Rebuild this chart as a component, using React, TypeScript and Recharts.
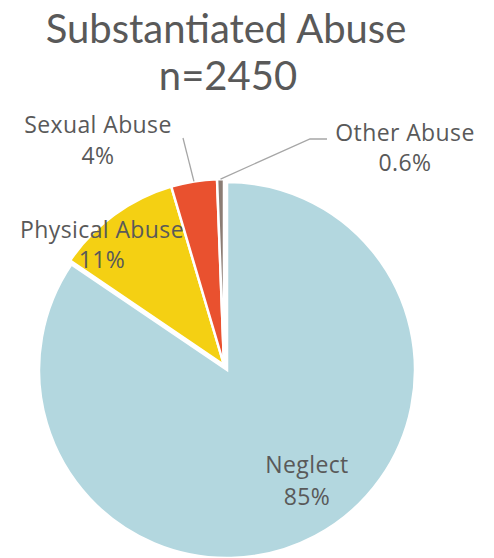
import React from 'react';
import { PieChart, Pie, Cell } from 'recharts';

const CATEGORIES = ['Neglect', 'Physical Abuse', 'Sexual Abuse', 'Other Abuse'];
const PERCENTS = [85, 11, 4, 0.6];
const PERCENT_LABELS = ['85%', '11%', '4%', '0.6%'];
const COLORS = ['#B3D7DF', '#F4D013', '#E9512F', '#8B7D74'];
const TITLE_LINES = ['Substantiated Abuse', 'n=2450'];

const data = CATEGORIES.map((name, i) => ({ name, value: PERCENTS[i], pct: PERCENT_LABELS[i] }));

const FONT = 'Lato, "Open Sans", sans-serif';
const LABEL_FONT = '"Open Sans", Lato, sans-serif';
const TEXT = '#595959';
const LINE = '#A6A6A6';
const RAD = Math.PI / 180;

// label placement relative to the pie centre
const LABEL_LAYOUT: Record<string, { dx: number; dy1: number; dy2: number; line?: number[][] }> = {
  'Neglect': { dx: 80, dy1: 103, dy2: 135 },
  'Physical Abuse': { dx: -122, dy1: -127, dy2: -97 },
  'Sexual Abuse': { dx: -126, dy1: -232, dy2: -201, line: [[-41, -227]] },
  'Other Abuse': { dx: 181, dy1: -224, dy2: -194, line: [[86, -226], [103, -226]] },
};

const makeLabel = (names: string[]) => (props: any) => {
  const { cx, cy, midAngle, outerRadius, name, payload } = props;
  if (!names.includes(name)) return null;
  const lay = LABEL_LAYOUT[name];
  const pct = payload?.pct ?? (payload?.payload?.pct);
  let path: React.ReactNode = null;
  if (lay.line) {
    const sx = cx + Math.cos(-midAngle * RAD) * outerRadius;
    const sy = cy + Math.sin(-midAngle * RAD) * outerRadius;
    const d = `M${sx},${sy}` + lay.line.map(([x, y]) => ` L${cx + x},${cy + y}`).join('');
    path = <path d={d} stroke={LINE} strokeWidth={1.3} fill="none" />;
  }
  const textProps = { textAnchor: 'middle' as const, fill: TEXT, fontSize: 23, fontFamily: LABEL_FONT, letterSpacing: 0.4 };
  return (
    <g key={`lbl-${name}`}>
      {path}
      <text x={cx + lay.dx} y={cy + lay.dy1} {...textProps}>{name}</text>
      <text x={cx + lay.dx} y={cy + lay.dy2} {...textProps}>{pct}</text>
    </g>
  );
};

export default function App() {
  return (
    <div style={{ position: 'absolute', left: 0, top: 0, width: 494, height: 558, background: '#fff' }}>
      <PieChart width={494} height={558} margin={{ top: 0, right: 0, bottom: 0, left: 0 }}>
        <Pie
          data={data}
          dataKey="value"
          nameKey="name"
          cx={227}
          cy={370}
          outerRadius={188}
          startAngle={90}
          endAngle={-270}
          stroke="#fff"
          strokeWidth={2.5}
          isAnimationActive={false}
          labelLine={false}
          label={makeLabel(['Neglect'])}
        >
          {data.map((d, i) => (
            <Cell key={d.name} fill={i === 0 ? COLORS[i] : 'transparent'} stroke={i === 0 ? '#fff' : 'none'} />
          ))}
        </Pie>
        <Pie
          data={data}
          dataKey="value"
          nameKey="name"
          cx={224}
          cy={365}
          outerRadius={186}
          startAngle={90}
          endAngle={-270}
          stroke="#fff"
          strokeWidth={2.5}
          isAnimationActive={false}
          labelLine={false}
          label={makeLabel(['Physical Abuse', 'Sexual Abuse', 'Other Abuse'])}
        >
          {data.map((d, i) => (
            <Cell key={d.name} fill={i === 0 ? 'transparent' : COLORS[i]} stroke={i === 0 ? 'none' : '#fff'} />
          ))}
        </Pie>
      </PieChart>
      <svg width={494} height={110} style={{ position: 'absolute', left: 0, top: 0, pointerEvents: 'none' }}>
        <text x={226} y={43} textAnchor="middle" fill={TEXT} fontSize={40} fontFamily={FONT}>{TITLE_LINES[0]}</text>
        <text x={228} y={90} textAnchor="middle" fill={TEXT} fontSize={40} fontFamily={FONT}>{TITLE_LINES[1]}</text>
      </svg>
    </div>
  );
}
